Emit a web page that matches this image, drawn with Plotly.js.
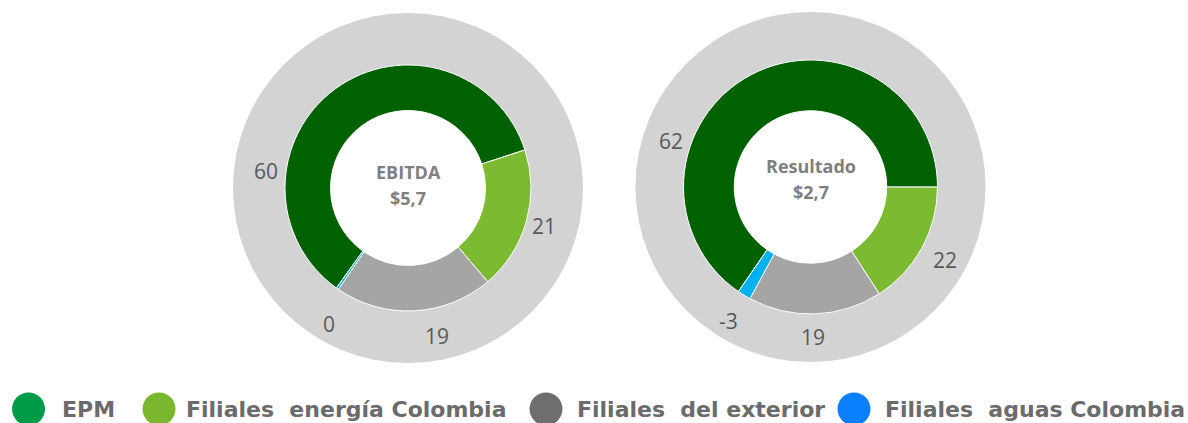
<!DOCTYPE html>
<html>
<head>
<meta charset="utf-8">
<script src="https://cdn.plot.ly/plotly-3.0.1.min.js"></script>
<style>html,body{margin:0;padding:0;background:#fff;}#chart{width:1188px;height:423px;}</style>
</head>
<body>
<div id="chart"></div>
<script>
// ---------- DATA ----------
const segments = ['EPM', 'Filiales energía Colombia', 'Filiales del exterior', 'Filiales aguas Colombia'];
const legendLabels = ['EPM', 'Filiales\u00a0 energía Colombia', 'Filiales\u00a0 del exterior', 'Filiales\u00a0 aguas Colombia'];
// slice sizes as drawn (share of the ring, %)
const ebitdaShare = [60.1, 18.8, 20.8, 0.3];
const resultadoShare = [65.4, 15.9, 17.0, 1.7];
// values printed on the grey ring
const ebitdaLabels = ['60', '21', '19', '0'];
const resultadoLabels = ['62', '22', '19', '-3'];
const centerTitles = ['EBITDA', 'Resultado'];
const centerValues = ['$5,7', '$2,7'];

// ---------- STYLE ----------
const W = 1188, H = 423;
const sliceColors = ['#006100', '#7cbb31', '#a5a5a5', '#00b0f0'];
const legendColors = ['#009b48', '#7ab72f', '#6e6e6e', '#0a80ff'];
const diskColor = '#d3d3d3';
const charts = [
  {share: ebitdaShare, labels: ebitdaLabels, cx: 408, cy: 188, r: 123, hole: 0.63, disk: 175, rotation: 215.6,
   labelR: [143, 141, 151, 157], nudge: [-47, 0, -8, -5], titleDy: [-16, 10]},
  {share: resultadoShare, labels: resultadoLabels, cx: 810.5, cy: 187, r: 127, hole: 0.6, disk: 175, rotation: 214.6,
   labelR: [147, 153, 150, 157], nudge: [-44, 0, 1, 0], titleDy: [-21, 5]}
];
const legendPos = [{c: 28.5, t: 60}, {c: 159, t: 184}, {c: 546, t: 575}, {c: 854, t: 883}];
const legendY = 409, legendR = 16.5;

const fx = px => px / W;
const fy = py => 1 - py / H;

const traces = [];
const annotations = [];
const shapes = [];

charts.forEach((c, ci) => {
  // grey outer ring (behind the donut)
  traces.push({
    type: 'pie', values: [1], labels: ['fondo'], sort: false,
    hole: (c.r - 3) / c.disk,
    marker: {colors: [diskColor], line: {width: 0}},
    textinfo: 'none', hoverinfo: 'skip', showlegend: false,
    domain: {x: [fx(c.cx - c.disk), fx(c.cx + c.disk)], y: [fy(c.cy + c.disk), fy(c.cy - c.disk)]}
  });
  // donut
  traces.push({
    type: 'pie', values: c.share, labels: segments, sort: false, direction: 'clockwise',
    rotation: c.rotation, hole: c.hole,
    marker: {colors: sliceColors, line: {color: '#ffffff', width: 1}},
    textinfo: 'none', hoverinfo: 'label+value', showlegend: false,
    domain: {x: [fx(c.cx - c.r), fx(c.cx + c.r)], y: [fy(c.cy + c.r), fy(c.cy - c.r)]}
  });
  // ring labels at slice mid-angles
  const total = c.share.reduce((a, b) => a + b, 0);
  let ang = c.rotation;
  c.share.forEach((v, i) => {
    const span = v / total * 360;
    const mid = (ang + span / 2 + c.nudge[i]) * Math.PI / 180;
    ang += span;
    const x = c.cx + c.labelR[i] * Math.sin(mid);
    const y = c.cy - c.labelR[i] * Math.cos(mid);
    annotations.push({
      xref: 'paper', yref: 'paper', x: fx(x), y: fy(y), xanchor: 'center', yanchor: 'middle',
      text: c.labels[i], showarrow: false,
      font: {family: 'Open Sans', size: 21, color: '#595959'}
    });
  });
  // centre text
  annotations.push({
    xref: 'paper', yref: 'paper', x: fx(c.cx), y: fy(c.cy + c.titleDy[0]), xanchor: 'center', yanchor: 'middle',
    text: '<b>' + centerTitles[ci] + '</b>', showarrow: false,
    font: {family: 'Open Sans', size: 18, color: '#7f7f7f'}
  });
  annotations.push({
    xref: 'paper', yref: 'paper', x: fx(c.cx), y: fy(c.cy + c.titleDy[1]), xanchor: 'center', yanchor: 'middle',
    text: '<b>' + centerValues[ci] + '</b>', showarrow: false,
    font: {family: 'Open Sans', size: 18, color: '#7f7f7f'}
  });
});

// custom legend
legendLabels.forEach((lab, i) => {
  const p = legendPos[i];
  shapes.push({
    type: 'circle', xref: 'paper', yref: 'paper',
    x0: fx(p.c - legendR), x1: fx(p.c + legendR), y0: fy(legendY + legendR), y1: fy(legendY - legendR),
    fillcolor: legendColors[i], line: {width: 0}
  });
  annotations.push({
    xref: 'paper', yref: 'paper', x: fx(p.t), y: fy(legendY), xanchor: 'left', yanchor: 'middle',
    text: '<b>' + lab + '</b>', showarrow: false,
    font: {family: 'DejaVu Sans', size: 22, color: '#6b6b6b'}
  });
});

const layout = {
  width: W, height: H,
  margin: {l: 0, r: 0, t: 0, b: 0},
  paper_bgcolor: '#ffffff', plot_bgcolor: '#ffffff',
  showlegend: false,
  annotations: annotations,
  shapes: shapes
};

Plotly.newPlot('chart', traces, layout, {displayModeBar: false, staticPlot: true});
</script>
</body>
</html>
